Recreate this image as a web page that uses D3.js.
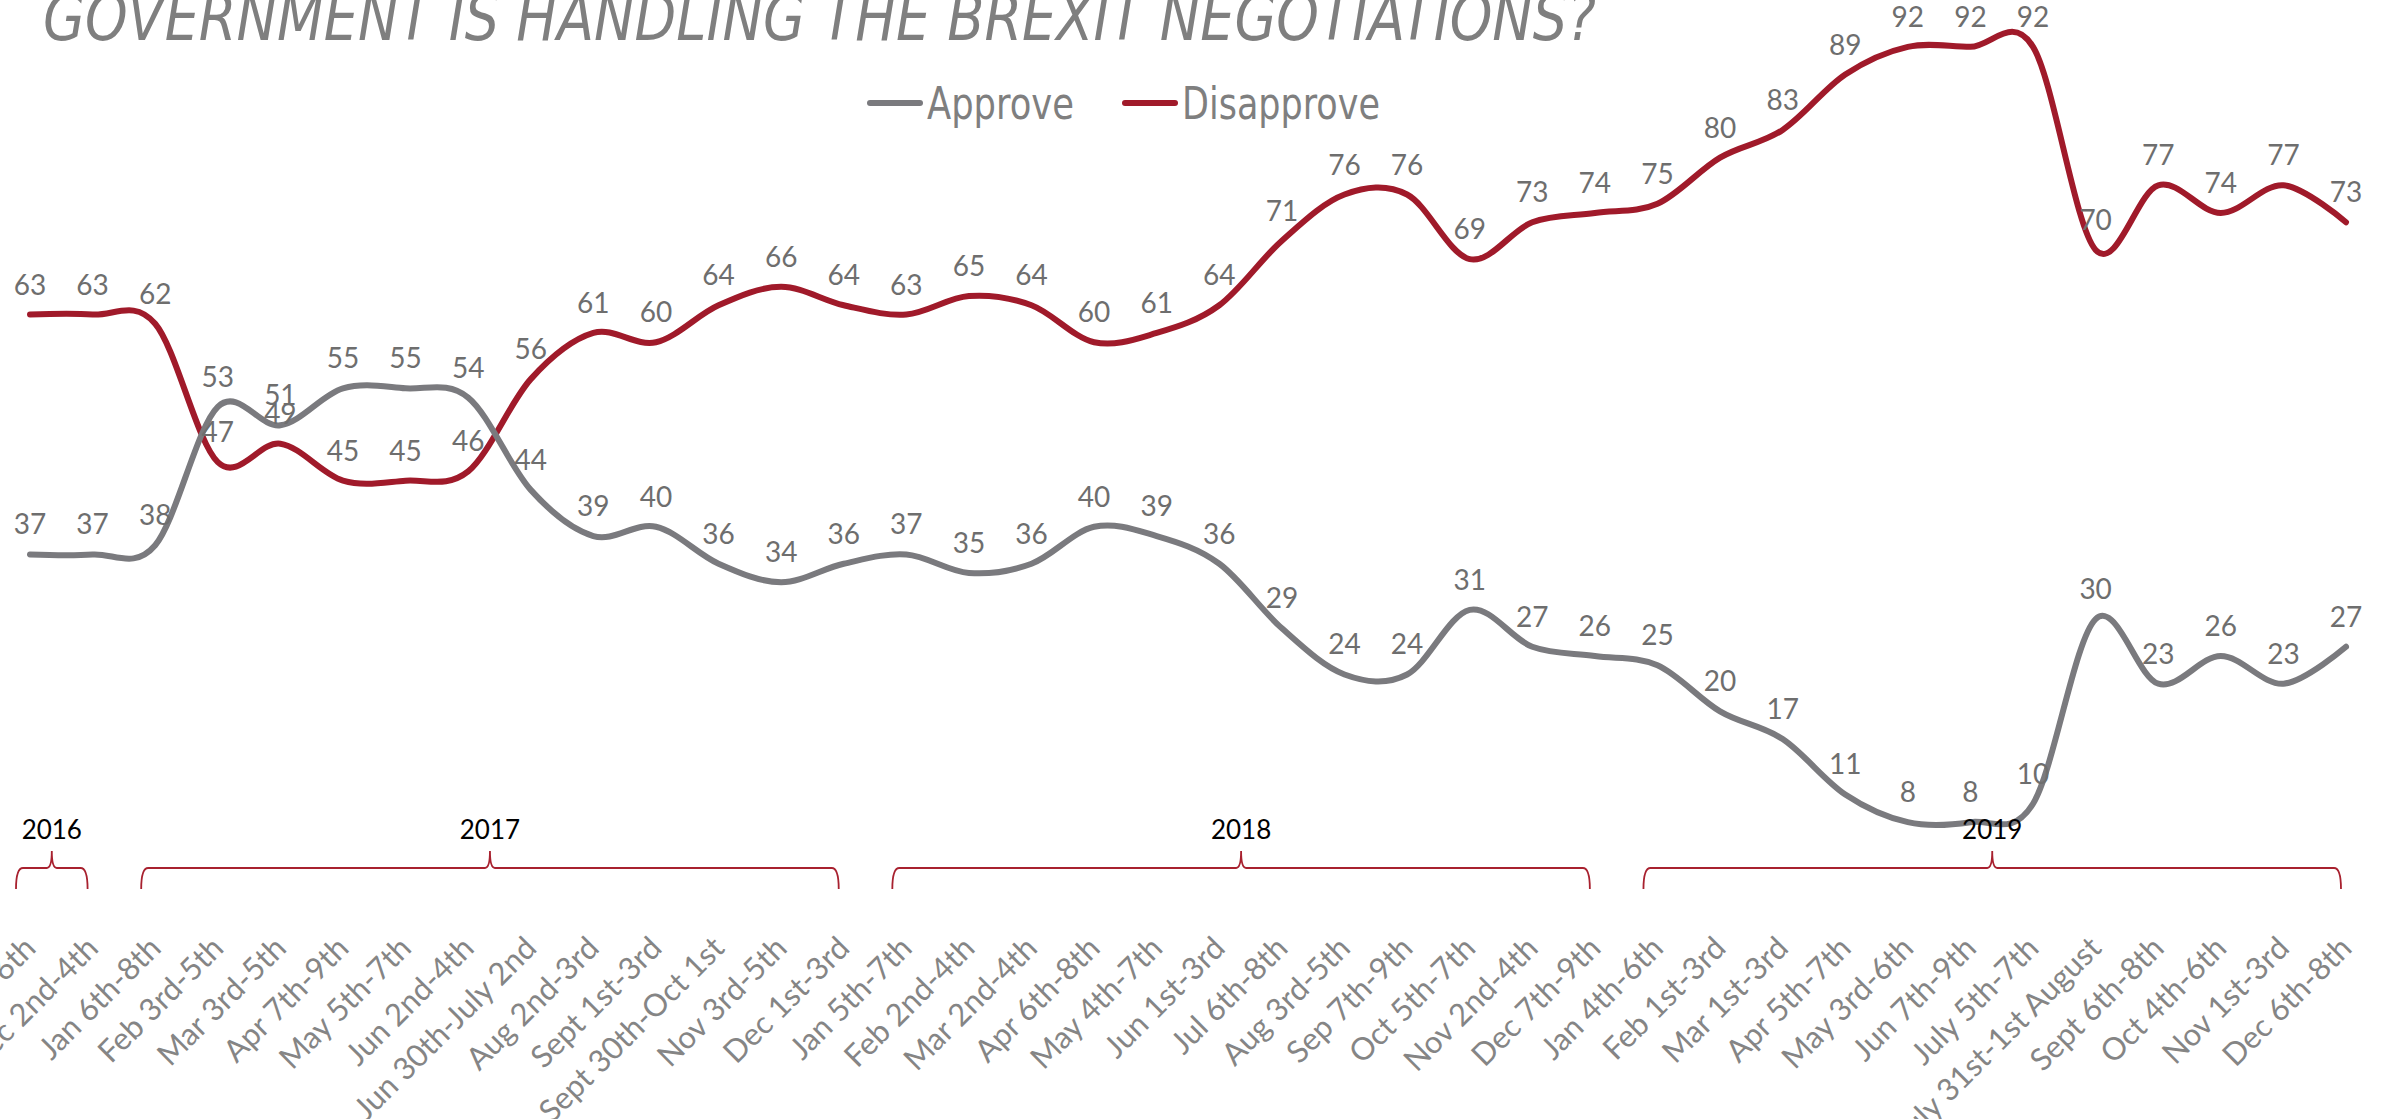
<!DOCTYPE html>
<html>
<head>
<meta charset="utf-8">
<script src="https://cdn.jsdelivr.net/npm/d3@7"></script>
<style>
  body { margin: 0; background: #fff; }
  svg { display: block; }
  .title { font-family: "Liberation Sans Narrow", "DejaVu Sans Condensed", sans-serif; font-style: italic; fill: #7f7f7f; }
  .legend-text { font-family: "Liberation Sans Narrow", "DejaVu Sans Condensed", sans-serif; fill: #7f7f7f; }
  .value-label { font-family: Lato, sans-serif; fill: #6e6e6e; }
  .tick text { font-family: Lato, sans-serif; fill: #858585; }
  .year-label { font-family: Lato, sans-serif; fill: #000; }
</style>
</head>
<body>
<svg id="chart" width="2384" height="1119"></svg>
<script>
// poll dates
const categories = [
  'Nov 4th-6th', 'Dec 2nd-4th', 'Jan 6th-8th', 'Feb 3rd-5th', 'Mar 3rd-5th', 'Apr 7th-9th',
  'May 5th-7th', 'Jun 2nd-4th', 'Jun 30th-July 2nd', 'Aug 2nd-3rd', 'Sept 1st-3rd',
  'Sept 30th-Oct 1st', 'Nov 3rd-5th', 'Dec 1st-3rd', 'Jan 5th-7th', 'Feb 2nd-4th',
  'Mar 2nd-4th', 'Apr 6th-8th', 'May 4th-7th', 'Jun 1st-3rd', 'Jul 6th-8th', 'Aug 3rd-5th',
  'Sep 7th-9th', 'Oct 5th-7th', 'Nov 2nd-4th', 'Dec 7th-9th', 'Jan 4th-6th', 'Feb 1st-3rd',
  'Mar 1st-3rd', 'Apr 5th-7th', 'May 3rd-6th', 'Jun 7th-9th', 'July 5th-7th',
  'July 31st-1st August', 'Sept 6th-8th', 'Oct 4th-6th', 'Nov 1st-3rd', 'Dec 6th-8th'
];
const approve = [37, 37, 38, 53, 51, 55, 55, 54, 44, 39, 40, 36, 34, 36, 37, 35, 36, 40, 39, 36,
  29, 24, 24, 31, 27, 26, 25, 20, 17, 11, 8, 8, 10, 30, 23, 26, 23, 27];
const disapprove = [63, 63, 62, 47, 49, 45, 45, 46, 56, 61, 60, 64, 66, 64, 63, 65, 64, 60, 61, 64,
  71, 76, 76, 69, 73, 74, 75, 80, 83, 89, 92, 92, 92, 70, 77, 74, 77, 73];

// year brackets (first and last poll of each year)
const years = ['2016', '2017', '2018', '2019'];
const yearFirst = ['Nov 4th-6th', 'Jan 6th-8th', 'Jan 5th-7th', 'Jan 4th-6th'];
const yearLast = ['Dec 2nd-4th', 'Dec 1st-3rd', 'Dec 7th-9th', 'Dec 6th-8th'];

const seriesNames = ['Approve', 'Disapprove'];
const colors = { Approve: '#7a7a7e', Disapprove: '#a01a2a' };

const svg = d3.select('#chart');

const x = d3.scalePoint().domain(categories).range([30, 2346]);
const y = d3.scaleLinear().domain([0, 100]).range([896, -27]);

// Title (top is cut off in the original)
svg.append('text')
  .attr('class', 'title')
  .attr('x', 43)
  .attr('y', 40)
  .attr('font-size', 64)
  .attr('textLength', 1553)
  .attr('lengthAdjust', 'spacingAndGlyphs')
  .text('GOVERNMENT IS HANDLING THE BREXIT NEGOTIATIONS?');

// Legend
const legendX = [870, 1125];
const legendW = [147, 198];
seriesNames.forEach((name, i) => {
  const g = svg.append('g').attr('transform', `translate(${legendX[i]}, 103)`);
  g.append('line')
    .attr('x1', 0).attr('x2', 50)
    .attr('stroke', colors[name])
    .attr('stroke-width', 6)
    .attr('stroke-linecap', 'round');
  g.append('text')
    .attr('class', 'legend-text')
    .attr('x', 57)
    .attr('y', 16)
    .attr('font-size', 44)
    .attr('textLength', legendW[i])
    .attr('lengthAdjust', 'spacingAndGlyphs')
    .text(name);
});

// Lines
const line = d3.line()
  .x((d, i) => x(categories[i]))
  .y(d => y(d))
  .curve(d3.curveCardinal.tension(0));

const series = [
  { name: 'Disapprove', values: disapprove },
  { name: 'Approve', values: approve }
];

series.forEach(s => {
  svg.append('path')
    .datum(s.values)
    .attr('fill', 'none')
    .attr('stroke', colors[s.name])
    .attr('stroke-width', 6)
    .attr('stroke-linecap', 'round')
    .attr('d', line);
});

// Value labels
series.forEach(s => {
  svg.append('g').selectAll('text').data(s.values)
    .enter().append('text')
      .attr('class', 'value-label')
      .attr('x', (d, i) => x(categories[i]))
      .attr('y', d => y(d) - 20)
      .attr('text-anchor', 'middle')
      .attr('font-size', 28)
      .text(d => d);
});

// Category axis
const axis = svg.append('g')
  .attr('transform', 'translate(0, 950)')
  .call(d3.axisBottom(x).tickSize(0));
axis.select('.domain').remove();
axis.selectAll('.tick text')
  .attr('x', 0)
  .attr('y', 0)
  .attr('dy', 0)
  .attr('font-size', 31)
  .attr('text-anchor', 'end')
  .attr('transform', 'translate(7,0) rotate(-45)');

// Year brackets
const bracketY = 868;
years.forEach((yr, i) => {
  const x0 = x(yearFirst[i]) - 14;
  const x1 = x(yearLast[i]) - 5;
  const xm = (x0 + x1) / 2;
  const p = d3.path();
  p.moveTo(x0, bracketY + 21);
  p.quadraticCurveTo(x0, bracketY, x0 + 7, bracketY);
  p.lineTo(xm - 5, bracketY);
  p.quadraticCurveTo(xm, bracketY, xm, bracketY - 17);
  p.quadraticCurveTo(xm, bracketY, xm + 5, bracketY);
  p.lineTo(x1 - 7, bracketY);
  p.quadraticCurveTo(x1, bracketY, x1, bracketY + 21);
  svg.append('path')
    .attr('d', p.toString())
    .attr('fill', 'none')
    .attr('stroke', '#a8212f')
    .attr('stroke-width', 1.8);
  svg.append('text')
    .attr('class', 'year-label')
    .attr('x', xm)
    .attr('y', bracketY - 29)
    .attr('text-anchor', 'middle')
    .attr('font-size', 26)
    .text(yr);
});
</script>
</body>
</html>
